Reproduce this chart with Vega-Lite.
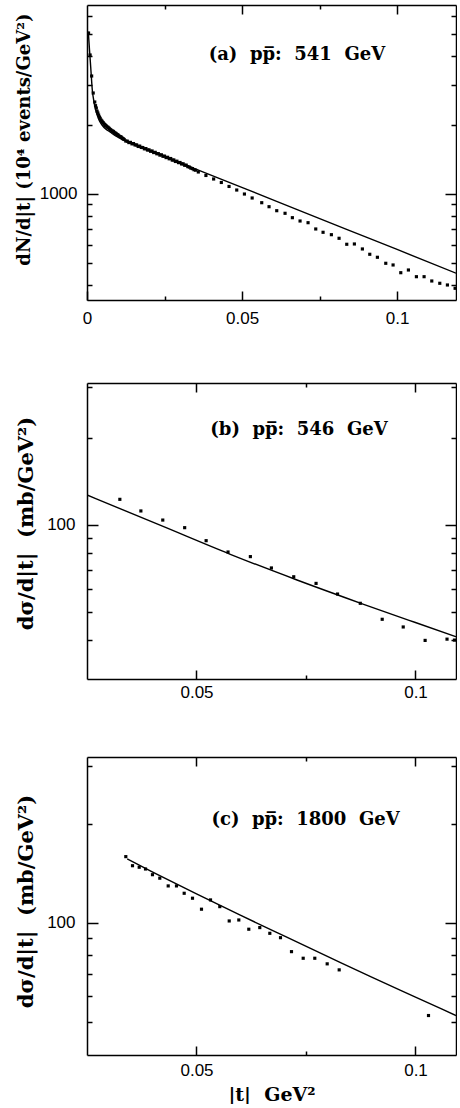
{
  "$schema": "https://vega.github.io/schema/vega-lite/v6.json",
  "padding": {"left": 15, "top": 4, "right": 0, "bottom": 0},
  "config": {
    "view": {"stroke": null},
    "axis": {"domainColor": "black", "domainWidth": 1.5, "tickColor": "black", "tickWidth": 1.5, "labelFont": "Liberation Sans", "labelFontSize": 17, "labelColor": "black", "titleFont": "DejaVu Serif", "titleFontWeight": "bold", "titleColor": "black", "grid": false, "labelFlush": false, "labelOverlap": false}
  },
  "bounds": "flush",
  "spacing": 83,
  "vconcat": [
    {
      "width": 369, "height": 295,
      "resolve": {"axis": {"x": "independent", "y": "independent"}},
      "layer": [
        {
          "data": {"values": [
            {"t":0.0005,"v":5047},{"t":0.001,"v":4046},{"t":0.0015,"v":3275},{"t":0.002,"v":2760},{"t":0.0025,"v":2521},{"t":0.003,"v":2373},{"t":0.0035,"v":2257},{"t":0.004,"v":2168},{"t":0.0045,"v":2104},{"t":0.005,"v":2062},{"t":0.0055,"v":2021},{"t":0.006,"v":1991},{"t":0.0065,"v":1961},{"t":0.007,"v":1941},{"t":0.0075,"v":1912},{"t":0.008,"v":1884},{"t":0.0085,"v":1874},{"t":0.009,"v":1846},{"t":0.0095,"v":1827},{"t":0.01,"v":1809},{"t":0.0105,"v":1782},{"t":0.011,"v":1773},{"t":0.0115,"v":1746},{"t":0.012,"v":1729},{"t":0.0125,"v":1703},
            {"t":0.00275,"v":2430},{"t":0.00325,"v":2300},{"t":0.00375,"v":2210},{"t":0.00425,"v":2140},{"t":0.00475,"v":2085},{"t":0.00525,"v":2045},{"t":0.00575,"v":2010},{"t":0.00625,"v":1978},{"t":0.00675,"v":1955},{"t":0.00725,"v":1925},{"t":0.00775,"v":1900},{"t":0.00825,"v":1882},{"t":0.00875,"v":1858},{"t":0.00925,"v":1840},{"t":0.00975,"v":1818},{"t":0.01025,"v":1795},{"t":0.01075,"v":1778},{"t":0.01125,"v":1758},{"t":0.01175,"v":1738},
            {"t":0.013,"v":1700},{"t":0.0135,"v":1676},{"t":0.014,"v":1680},{"t":0.0145,"v":1655},{"t":0.015,"v":1660},{"t":0.0155,"v":1636},{"t":0.016,"v":1638},{"t":0.0165,"v":1612},{"t":0.017,"v":1618},{"t":0.0175,"v":1596},{"t":0.018,"v":1595},{"t":0.0185,"v":1574},{"t":0.019,"v":1578},{"t":0.0195,"v":1555},{"t":0.02,"v":1558},{"t":0.0205,"v":1536},{"t":0.021,"v":1540},{"t":0.0215,"v":1516},{"t":0.022,"v":1520},{"t":0.0225,"v":1498},{"t":0.023,"v":1500},{"t":0.0235,"v":1478},{"t":0.024,"v":1482},{"t":0.0245,"v":1460},{"t":0.025,"v":1463},{"t":0.0255,"v":1441},{"t":0.026,"v":1446},{"t":0.0265,"v":1424},{"t":0.027,"v":1428},{"t":0.0275,"v":1405},{"t":0.028,"v":1408},{"t":0.0285,"v":1386},{"t":0.029,"v":1390},{"t":0.0295,"v":1370},{"t":0.03,"v":1372},{"t":0.0305,"v":1352},{"t":0.031,"v":1354},{"t":0.0315,"v":1334},{"t":0.032,"v":1336},{"t":0.0325,"v":1316},{"t":0.033,"v":1310},{"t":0.0335,"v":1296},{"t":0.034,"v":1290},{"t":0.0345,"v":1276},{"t":0.035,"v":1270},
            {"t":0.0359,"v":1247},{"t":0.03835,"v":1204},{"t":0.04084,"v":1162},{"t":0.04332,"v":1122},{"t":0.04581,"v":1078},{"t":0.04829,"v":1040},{"t":0.05077,"v":999},{"t":0.05326,"v":960},
            {"t":0.05635,"v":915.5},{"t":0.05871,"v":879.4},{"t":0.06119,"v":844.8},{"t":0.06387,"v":823.0},{"t":0.06623,"v":787.4},{"t":0.06871,"v":761.6},{"t":0.07129,"v":748.7},{"t":0.07377,"v":702.8},{"t":0.07613,"v":679.8},{"t":0.07881,"v":663.6},{"t":0.08129,"v":640.0},{"t":0.08377,"v":602.6},{"t":0.08623,"v":604.4},{"t":0.08881,"v":574.8},{"t":0.09119,"v":544.9},{"t":0.09365,"v":528.7},{"t":0.09635,"v":497.7},{"t":0.09871,"v":489.3},{"t":0.10119,"v":452.7},{"t":0.10365,"v":465.2},{"t":0.10623,"v":434.9},{"t":0.10871,"v":434.9},{"t":0.11119,"v":416.5},{"t":0.11377,"v":407.0},{"t":0.11623,"v":400.1},{"t":0.11871,"v":387.0}
          ]},
          "mark": {"type": "point", "shape": "square", "filled": true, "size": 10, "color": "black", "opacity": 1, "clip": true},
          "encoding": {
            "x": {"field": "t", "type": "quantitative", "scale": {"domain": [0, 0.119], "nice": false, "zero": false},
              "axis": {"orient": "bottom", "values": [0, 0.025, 0.05, 0.075, 0.1], "tickSize": {"condition": {"test": "datum.value == 0.025 || datum.value == 0.075", "value": -4}, "value": -9}, "labelExpr": "datum.value == 0 ? '0' : datum.value == 0.05 ? '0.05' : datum.value == 0.1 ? '0.1' : ''", "labelPadding": 19, "title": null}},
            "y": {"field": "v", "type": "quantitative", "scale": {"type": "log", "domain": [344, 6690], "nice": false},
              "axis": {"orient": "left", "values": [400, 500, 600, 700, 800, 900, 1000, 2000, 3000, 4000, 5000, 6000], "tickSize": {"condition": {"test": "datum.value == 1000", "value": -11}, "value": -5}, "labelExpr": "datum.value == 1000 ? '1000' : ''", "labelPadding": 21, "title": "dN/d|t| (10⁴ events/GeV²)", "titleFontSize": 18, "titlePadding": 6, "titleY": 134}}
          }
        },
        {
          "data": {"values": [
            {"t":0.00042,"v":5114},{"t":0.00081,"v":4255},{"t":0.00119,"v":3596},{"t":0.00171,"v":2845},{"t":0.00226,"v":2521},{"t":0.00281,"v":2326},{"t":0.00387,"v":2104},{"t":0.00484,"v":2001},{"t":0.00603,"v":1922},{"t":0.00742,"v":1865},{"t":0.00926,"v":1791},{"t":0.01248,"v":1703},{"t":0.02,"v":1551},{"t":0.03613,"v":1268},{"t":0.05032,"v":1063},{"t":0.06839,"v":848.3},{"t":0.08452,"v":693.7},{"t":0.1,"v":571.9},{"t":0.119,"v":450.5}
          ]},
          "mark": {"type": "line", "color": "black", "strokeWidth": 1.4, "interpolate": "monotone", "clip": true},
          "encoding": {
            "x": {"field": "t", "type": "quantitative", "scale": {"domain": [0, 0.119], "nice": false, "zero": false},
              "axis": {"orient": "top", "values": [0.025, 0.05, 0.075, 0.1], "tickSize": {"condition": {"test": "datum.value == 0.05 || datum.value == 0.1", "value": -9}, "value": -4}, "labels": false, "title": null}},
            "y": {"field": "v", "type": "quantitative", "scale": {"type": "log", "domain": [344, 6690], "nice": false},
              "axis": {"orient": "right", "values": [400, 500, 600, 700, 800, 900, 1000, 2000, 3000, 4000, 5000, 6000], "tickSize": {"condition": {"test": "datum.value == 1000", "value": -11}, "value": -5}, "labels": false, "title": null}}
          }
        },
        {
          "data": {"values": [{"t": 0.0677, "v": 4046, "label": "(a) \u00a0pp\u0305: \u00a0541 \u00a0GeV"}]},
          "mark": {"type": "text", "font": "DejaVu Serif", "fontWeight": "bold", "fontSize": 18, "align": "center", "baseline": "middle", "color": "black"},
          "encoding": {
            "x": {"field": "t", "type": "quantitative", "axis": null},
            "y": {"field": "v", "type": "quantitative", "axis": null},
            "text": {"field": "label"}
          }
        }
      ]
    },
    {
      "bounds": "flush",
      "spacing": 78,
      "vconcat": [
        {
          "width": 369, "height": 296,
          "resolve": {"axis": {"x": "independent", "y": "independent"}},
          "layer": [
            {
              "data": {"values": [
                {"t":0.0325,"v":122.6},{"t":0.0373,"v":111.8},{"t":0.0423,"v":104.0},{"t":0.0473,"v":97.9},{"t":0.0522,"v":88.3},{"t":0.0572,"v":80.7},{"t":0.0623,"v":77.8},{"t":0.0671,"v":71.1},{"t":0.0722,"v":66.3},{"t":0.0773,"v":62.9},{"t":0.0822,"v":57.8},{"t":0.0874,"v":53.7},{"t":0.0924,"v":47.3},{"t":0.0972,"v":44.5},{"t":0.1022,"v":40.0},{"t":0.1072,"v":40.4},{"t":0.1089,"v":40.1}
              ]},
              "mark": {"type": "point", "shape": "square", "filled": true, "size": 10, "color": "black", "opacity": 1, "clip": true},
              "encoding": {
                "x": {"field": "t", "type": "quantitative", "scale": {"domain": [0.025, 0.10925], "nice": false, "zero": false},
                  "axis": {"orient": "bottom", "values": [0.05, 0.075, 0.1], "tickSize": {"condition": {"test": "datum.value == 0.075", "value": -4}, "value": -9}, "labelExpr": "datum.value == 0.05 ? '0.05' : datum.value == 0.1 ? '0.1' : ''", "labelPadding": 14, "title": null}},
                "y": {"field": "v", "type": "quantitative", "scale": {"type": "log", "domain": [29.44, 308.8], "nice": false},
                  "axis": {"orient": "left", "values": [40, 50, 60, 70, 80, 90, 100, 200, 300], "tickSize": {"condition": {"test": "datum.value == 100", "value": -11}, "value": -5}, "labelExpr": "datum.value == 100 ? '100' : ''", "labelPadding": 23, "title": "dσ/d|t| \u00a0(mb/GeV²)", "titleFontSize": 21, "titlePadding": 10, "titleY": 140}}
              }
            },
            {
              "data": {"values": [
                {"t":0.025,"v":126.9},{"t":0.04251,"v":98.66},{"t":0.05772,"v":79.25},{"t":0.07295,"v":64.62},{"t":0.08817,"v":53.28},{"t":0.09982,"v":46.19},{"t":0.10925,"v":41.2}
              ]},
              "mark": {"type": "line", "color": "black", "strokeWidth": 1.4, "interpolate": "monotone", "clip": true},
              "encoding": {
                "x": {"field": "t", "type": "quantitative", "scale": {"domain": [0.025, 0.10925], "nice": false, "zero": false},
                  "axis": {"orient": "top", "values": [0.05, 0.075, 0.1], "tickSize": {"condition": {"test": "datum.value == 0.075", "value": -4}, "value": -9}, "labels": false, "title": null}},
                "y": {"field": "v", "type": "quantitative", "scale": {"type": "log", "domain": [29.44, 308.8], "nice": false},
                  "axis": {"orient": "right", "values": [40, 50, 60, 70, 80, 90, 100, 200, 300], "tickSize": {"condition": {"test": "datum.value == 100", "value": -11}, "value": -5}, "labels": false, "title": null}}
              }
            },
            {
              "data": {"values": [{"t": 0.0734, "v": 212.6, "label": "(b) \u00a0pp\u0305: \u00a0546 \u00a0GeV"}]},
              "mark": {"type": "text", "font": "DejaVu Serif", "fontWeight": "bold", "fontSize": 18, "align": "center", "baseline": "middle", "color": "black"},
              "encoding": {
                "x": {"field": "t", "type": "quantitative", "axis": null},
                "y": {"field": "v", "type": "quantitative", "axis": null},
                "text": {"field": "label"}
              }
            }
          ]
        },
        {
          "width": 369, "height": 298,
          "resolve": {"axis": {"x": "independent", "y": "independent"}},
          "layer": [
            {
              "data": {"values": [
                {"t":0.03386,"v":159.1},{"t":0.03539,"v":149.3},{"t":0.03692,"v":147.7},{"t":0.03836,"v":145.9},{"t":0.03995,"v":140.2},{"t":0.04162,"v":136.8},{"t":0.04354,"v":129.6},{"t":0.04543,"v":129.6},{"t":0.04719,"v":123.1},{"t":0.04909,"v":118.9},{"t":0.05114,"v":110.1},{"t":0.0532,"v":117.5},{"t":0.05532,"v":112.1},{"t":0.05747,"v":101.4},{"t":0.05966,"v":102.1},{"t":0.06194,"v":95.7},{"t":0.06445,"v":96.8},{"t":0.06674,"v":93.0},{"t":0.06918,"v":90.2},{"t":0.07169,"v":81.8},{"t":0.07436,"v":78.1},{"t":0.07701,"v":78.1},{"t":0.07984,"v":75.1},{"t":0.08258,"v":72.0},{"t":0.10297,"v":52.3}
              ]},
              "mark": {"type": "point", "shape": "square", "filled": true, "size": 10, "color": "black", "opacity": 1, "clip": true},
              "encoding": {
                "x": {"field": "t", "type": "quantitative", "scale": {"domain": [0.025, 0.10925], "nice": false, "zero": false},
                  "axis": {"orient": "bottom", "values": [0.05, 0.075, 0.1], "tickSize": {"condition": {"test": "datum.value == 0.075", "value": -4}, "value": -9}, "labelExpr": "datum.value == 0.05 ? '0.05' : datum.value == 0.1 ? '0.1' : ''", "labelPadding": 16, "title": "|t| \u00a0GeV²", "titleFontSize": 19, "titlePadding": 2}},
                "y": {"field": "v", "type": "quantitative", "scale": {"type": "log", "domain": [39.67, 319.6], "nice": false},
                  "axis": {"orient": "left", "values": [50, 60, 70, 80, 90, 100, 200, 300], "tickSize": {"condition": {"test": "datum.value == 100", "value": -11}, "value": -5}, "labelExpr": "datum.value == 100 ? '100' : ''", "labelPadding": 23, "title": "dσ/d|t| \u00a0(mb/GeV²)", "titleFontSize": 21, "titlePadding": 10, "titleY": 144}}
              }
            },
            {
              "data": {"values": [
                {"t":0.03418,"v":156.5},{"t":0.04,"v":142.8},{"t":0.05,"v":122.5},{"t":0.06,"v":105.6},{"t":0.07,"v":91.3},{"t":0.08,"v":79.0},{"t":0.09,"v":68.4},{"t":0.1,"v":59.5},{"t":0.10925,"v":52.3}
              ]},
              "mark": {"type": "line", "color": "black", "strokeWidth": 1.4, "interpolate": "monotone", "clip": true},
              "encoding": {
                "x": {"field": "t", "type": "quantitative", "scale": {"domain": [0.025, 0.10925], "nice": false, "zero": false},
                  "axis": {"orient": "top", "values": [0.05, 0.075, 0.1], "tickSize": {"condition": {"test": "datum.value == 0.075", "value": -4}, "value": -9}, "labels": false, "title": null}},
                "y": {"field": "v", "type": "quantitative", "scale": {"type": "log", "domain": [39.67, 319.6], "nice": false},
                  "axis": {"orient": "right", "values": [50, 60, 70, 80, 90, 100, 200, 300], "tickSize": {"condition": {"test": "datum.value == 100", "value": -11}, "value": -5}, "labels": false, "title": null}}
              }
            },
            {
              "data": {"values": [{"t": 0.0749, "v": 205.6, "label": "(c) \u00a0pp\u0305: \u00a01800 \u00a0GeV"}]},
              "mark": {"type": "text", "font": "DejaVu Serif", "fontWeight": "bold", "fontSize": 18, "align": "center", "baseline": "middle", "color": "black"},
              "encoding": {
                "x": {"field": "t", "type": "quantitative", "axis": null},
                "y": {"field": "v", "type": "quantitative", "axis": null},
                "text": {"field": "label"}
              }
            }
          ]
        }
      ]
    }
  ]
}
